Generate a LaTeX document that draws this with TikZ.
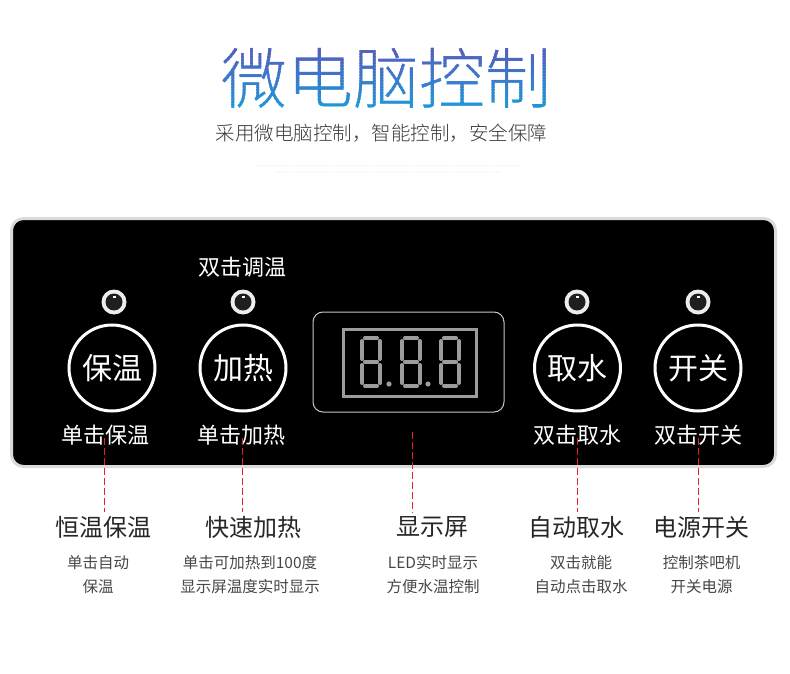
\documentclass[tikz,border=0pt]{standalone}
\usepackage{fontspec}
\usetikzlibrary{positioning}
\newfontfamily\cjk{Noto Sans CJK SC}
\IfFontExistsTF{Noto Sans CJK SC Light}{\newfontfamily\cjkthin{Noto Sans CJK SC Light}}{\let\cjkthin\cjk}
\definecolor{titletop}{HTML}{5A58B8}
\definecolor{titlebot}{HTML}{1C9BDB}
\definecolor{rimgray}{HTML}{DADADA}
\definecolor{seggray}{HTML}{9C9C9C}
\definecolor{leadred}{HTML}{E8202A}

\begin{document}
\begin{tikzpicture}[x=1pt, y=-1pt,
                    line width=1pt,
                    ]
    \tikzstyle{panellabel}=[text=white, font=\cjk\fontsize{22}{22}\selectfont]
    \tikzstyle{button}=[circle, draw=white, line width=3pt, minimum size=86pt, inner sep=0pt, text=white, font=\cjk\fontsize{30}{30}\selectfont]
    \tikzstyle{ledring}=[circle, fill=black!7, minimum size=25pt, inner sep=0pt]
    \tikzstyle{featuretitle}=[text=black!85, font=\cjk\fontsize{24}{24}\selectfont]
    \tikzstyle{featuretext}=[text=black!72, align=center, font=\cjk\fontsize{15.5}{24}\selectfont]
    \tikzstyle{leader}=[draw=leadred, line width=1pt, dash pattern=on 7pt off 3pt]
    \tikzstyle{ledseg}=[draw=seggray, line width=4pt, line cap=round]

    \useasboundingbox (0,0) rectangle (790,674);

    % heading, coloured band by band
    \foreach \i in {0,...,23} {
        \pgfmathsetmacro\p{100*\i/23}
        \begin{scope}
            \clip (210,42+3*\i) rectangle (565,45.6+3*\i);
            \node[text=titlebot!\p!titletop, font=\cjkthin\fontsize{66}{66}\selectfont] (title\i) at (386.5,79) {微电脑控制};
        \end{scope}
    }
    \node[text=black!78, font=\cjkthin\fontsize{19.5}{19.5}\selectfont] (subtitle) at (381.5,133.5) {采用微电脑控制，智能控制，安全保障};
    \draw[black!3, line width=2.5pt, dash pattern=on 1.5pt off 1pt] (256,166) -- (520,166) (276,172) -- (500,172);

    % control panel
    \node[draw=rimgray, fill=black, line width=3pt, rounded corners=12pt, minimum width=764pt, minimum height=248pt] (panel) at (393.5,342.5) {};
    \node[panellabel] (adjust) at (242,267) {双击调温};

    \foreach \x/\n in {114/1, 243/2, 577/3, 698/4} {
        \node[ledring] (led\n) at (\x,302) {};
        \fill[black!88] (led\n) circle (8.5pt);
        \fill[white] ([xshift=-1.5pt, yshift=4pt]led\n.center) rectangle +(3pt,2pt);
    }

    \node[button] (keep) at (112,368) {保温};
    \node[button] (heat) at (243,368) {加热};
    \node[button] (water) at (577.5,368) {取水};
    \node[button] (power) at (698,368) {开关};

    \node[panellabel] (keeplbl) at (105,435) {单击保温};
    \node[panellabel] (heatlbl) at (241.5,435) {单击加热};
    \node[panellabel] (waterlbl) at (577.5,435) {双击取水};
    \node[panellabel] (powerlbl) at (698,435) {双击开关};

    % display
    \node[draw=black!22, rounded corners=10pt, minimum width=191pt, minimum height=100pt] (display) at (408.5,362) {};
    \node[draw=seggray, line width=3pt, minimum width=133pt, minimum height=67pt] (screen) at (409.5,362.5) {};
    \foreach \l in {362, 402, 441} {
        \path[ledseg] (\l+3,338) -- (\l+15,338) (\l+3,362) -- (\l+15,362) (\l+3,386) -- (\l+15,386)
            (\l,341) -- (\l,359) (\l,365) -- (\l,383) (\l+18,341) -- (\l+18,359) (\l+18,365) -- (\l+18,383);
    }
    \fill[seggray] (389,384) circle (2.6pt) (428,384) circle (2.6pt);
    \coordinate (screenlead) at (412,432);

    % features
    \node[featuretitle] (keeptitle) at (103.5,527) {恒温保温};
    \node[featuretitle] (heattitle) at (253,527) {快速加热};
    \node[featuretitle] (showtitle) at (432,527) {显示屏};
    \node[featuretitle] (watertitle) at (576,527) {自动取水};
    \node[featuretitle] (powertitle) at (701,527) {电源开关};

    \node[featuretext] (keeptext) at (98,575) {单击自动\\保温};
    \node[featuretext] (heattext) at (250,575) {单击可加热到100度\\显示屏温度实时显示};
    \node[featuretext] (showtext) at (433,575) {LED实时显示\\方便水温控制};
    \node[featuretext] (watertext) at (581,575) {双击就能\\自动点击取水};
    \node[featuretext] (powertext) at (701.5,575) {控制茶吧机\\开关电源};

    \path[leader] ([xshift=-1pt, yshift=-3pt]keeplbl.center) -- ([xshift=-1pt]keeplbl.center |- keeptitle.north);
    \path[leader] ([xshift=0.5pt, yshift=-3pt]heatlbl.center) -- ([xshift=0.5pt]heatlbl.center |- heattitle.north);
    \path[leader] (screenlead) -- (screenlead |- showtitle.north);
    \path[leader] ([yshift=-3pt]waterlbl.center) -- (waterlbl.center |- watertitle.north);
    \path[leader] ([yshift=-3pt]powerlbl.center) -- (powerlbl.center |- powertitle.north);
\end{tikzpicture}
\end{document}
